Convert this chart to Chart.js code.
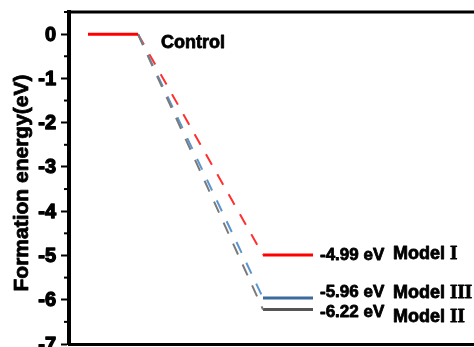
<!DOCTYPE html>
<html>
<head>
<meta charset="utf-8">
<script src="https://cdn.jsdelivr.net/npm/chart.js@4.4.1/dist/chart.umd.min.js"></script>
<style>
  html, body { margin: 0; padding: 0; background: #fff; overflow: hidden; }
  #wrap { width: 500px; height: 362px; }
</style>
</head>
<body>
<div id="wrap"><canvas id="energyChart"></canvas></div>
<script>
// formation energies of each structure (eV)
const names = ['Control', 'Model I', 'Model III', 'Model II'];
const energies = [0, -4.99, -5.96, -6.22];
const levelColors = ['#ff0000', '#ff0000', '#3d6a9d', '#555555'];
const dashColors = ['#ff0000', '#ff3030', '#5b95d0', '#7a7a7a'];
const roman = ['', 'I', 'III', 'II'];

// x extents of the energy levels
const controlX = [1, 2];
const modelX = [4.5, 5.5];
const yTicks = [0, -1, -2, -3, -4, -5, -6, -7];

var datasets = [];
// solid level for the control
datasets.push({
  data: [{x: controlX[0], y: energies[0]}, {x: controlX[1], y: energies[0]}],
  borderColor: levelColors[0], borderWidth: 3
});
// dashed connectors, drawn gray first then blue then red
[3, 2, 1].forEach(function(i) {
  datasets.push({
    data: [{x: controlX[1], y: energies[0]}, {x: modelX[0], y: energies[i]}],
    borderColor: dashColors[i], borderWidth: 2, borderDash: [12, 11]
  });
});
[3, 2, 1].forEach(function(i) {
  datasets.push({
    data: [{x: modelX[0], y: energies[i]}, {x: modelX[1], y: energies[i]}],
    borderColor: levelColors[i], borderWidth: 3
  });
});

const sans = 'bold 18px "Liberation Sans", Arial, sans-serif';

// heavy text: fill plus a thin outline
function heavyText(ctx, txt, x, y) {
  ctx.fillText(txt, x, y);
  ctx.strokeText(txt, x, y);
}

// labels next to each level, plus the top frame and minor ticks
const decorations = {
  id: 'decorations',
  afterDraw: function(chart) {
    var ctx = chart.ctx, xs = chart.scales.x, ys = chart.scales.y, area = chart.chartArea;
    ctx.save();
    ctx.strokeStyle = '#000';
    ctx.lineWidth = 3;
    ctx.beginPath();
    ctx.moveTo(area.left - 2, area.top);
    ctx.lineTo(chart.width, area.top);
    ctx.stroke();

    // minor ticks at half units
    ctx.lineWidth = 2;
    for (var v = 0.5; v > -7; v -= 1) {
      var py = ys.getPixelForValue(v);
      ctx.beginPath();
      ctx.moveTo(area.left - 1, py);
      ctx.lineTo(area.left - 5, py);
      ctx.stroke();
    }

    // y axis tick labels and title
    ctx.fillStyle = '#000';
    ctx.lineJoin = 'round';
    ctx.textBaseline = 'middle';
    ctx.textAlign = 'right';
    ctx.lineWidth = 1.3;
    ctx.font = 'bold 20px "Liberation Sans", Arial, sans-serif';
    yTicks.forEach(function(v) {
      heavyText(ctx, String(v), area.left - 13, ys.getPixelForValue(v) + 1);
    });
    ctx.lineWidth = 0.8;
    ctx.save();
    ctx.translate(22, (area.top + area.bottom) / 2 + 5);
    ctx.rotate(-Math.PI / 2);
    ctx.textAlign = 'center';
    ctx.font = 'bold 21px "Liberation Sans", Arial, sans-serif';
    heavyText(ctx, 'Formation energy(eV)', 0, 0);
    ctx.restore();

    ctx.textAlign = 'left';
    ctx.font = sans;
    heavyText(ctx, names[0], xs.getPixelForValue(controlX[1]) + 23, ys.getPixelForValue(energies[0]) + 9);

    var valueOffsets = [0, 0, -6, 3];
    var nameOffsets = [0, -1, -5, 8];
    for (var i = 1; i < names.length; i++) {
      var x0 = xs.getPixelForValue(modelX[1]) + 7;
      var y = ys.getPixelForValue(energies[i]);
      ctx.font = 'bold 17px "Liberation Sans", Arial, sans-serif';
      heavyText(ctx, energies[i].toFixed(2) + ' eV', x0, y + valueOffsets[i]);
      var word = names[i].replace(' ' + roman[i], '') + ' ';
      ctx.font = sans;
      var x1 = x0 + 73;
      heavyText(ctx, word, x1, y + nameOffsets[i]);
      var w = ctx.measureText(word).width;
      ctx.font = 'bold 19px "Liberation Serif", "Times New Roman", serif';
      heavyText(ctx, roman[i], x1 + w, y + nameOffsets[i]);
    }
    ctx.restore();
  }
};

var ctx = document.getElementById('energyChart');
var energyChart = new Chart(ctx, {
  type: 'line',
  data: { datasets: datasets },
  options: {
    responsive: true,
    maintainAspectRatio: false,
    animation: false,
    events: [],
    layout: { padding: { top: 12, left: 0, right: 0, bottom: 0 } },
    elements: { point: { radius: 0 }, line: { tension: 0, fill: false } },
    plugins: { legend: { display: false }, tooltip: { enabled: false } },
    scales: {
      x: {
        type: 'linear',
        min: 0.62,
        max: 9.24,
        ticks: { display: false },
        grid: { display: false, drawTicks: false },
        border: { display: true, color: '#000', width: 3 },
        afterFit: function(scale) { scale.height = 18; }
      },
      y: {
        min: -7,
        max: 0.5,
        afterBuildTicks: function(scale) {
          scale.ticks = yTicks.map(function(v) { return {value: v}; });
        },
        ticks: { display: false },
        grid: { drawOnChartArea: false, tickLength: 8, tickWidth: 2, tickColor: '#000' },
        border: { display: true, color: '#000', width: 4 },
        afterFit: function(scale) { scale.width = 69; }
      }
    }
  },
  plugins: [decorations]
});
</script>
</body>
</html>
